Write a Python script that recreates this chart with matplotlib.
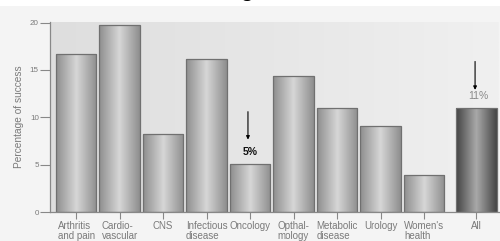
import numpy as np
import matplotlib.pyplot as plt
from matplotlib.colors import LinearSegmentedColormap

categories = ["Arthritis\nand pain", "Cardio-\nvascular", "CNS", "Infectious\ndisease",
              "Oncology", "Opthal-\nmology", "Metabolic\ndisease", "Urology",
              "Women's\nhealth", "All"]
success = [16.7, 19.8, 8.2, 16.2, 5.1, 14.4, 11.0, 9.1, 3.9, 11.0]
positions = [0, 1, 2, 3, 4, 5, 6, 7, 8, 9.2]
yticks = [0, 5, 10, 15, 20]

plt.rcParams['font.family'] = ['Liberation Sans', 'DejaVu Sans']
txt_gray = '#7a7a7a'

fig = plt.figure(figsize=(5, 2.41), dpi=100)
fig.patch.set_facecolor('white')
# light panel behind the chart
fig.patches.append(plt.Rectangle((0, 0), 1, 0.975, transform=fig.transFigure,
                                 facecolor='#f4f4f4', edgecolor='none', zorder=-5))
# cut-off title at the very top
fig.text(0.493, 1.035, 'g', fontsize=15, fontweight='bold', ha='center', va='center')

ax = fig.add_axes([0.100, 0.120, 0.898, 0.790])
ax.set_xlim(-0.6, 9.72)
ax.set_ylim(0, 20.1)

# background gradient of the plot area
bg = LinearSegmentedColormap.from_list('bg', ['#dedede', '#f0f0f0'])
ax.imshow(np.linspace(0, 1, 256).reshape(1, -1), cmap=bg, aspect='auto',
          extent=[-0.6, 9.72, 0, 20.1], zorder=0)

cyl = np.concatenate([np.linspace(0, 1, 64), np.linspace(1, 0, 64)]).reshape(1, -1)
gray_cm = LinearSegmentedColormap.from_list('g', ['#8e8e8e', '#d6d6d6'])
dark_cm = LinearSegmentedColormap.from_list('d', ['#444444', '#a8a8a8'])

width = 0.93
bars = ax.bar(positions, success, width=width, facecolor='none',
              edgecolor='#707070', linewidth=0.9, zorder=3)
for b, cat in zip(bars, categories):
    x0 = b.get_x()
    cm = dark_cm if cat == "All" else gray_cm
    im = ax.imshow(cyl, cmap=cm, aspect='auto', zorder=2,
                   extent=[x0, x0 + b.get_width(), 0, b.get_height()])
    im.set_clip_path(b)

ax.set_yticks(yticks)
ax.set_xticks(positions)
ax.set_xticklabels(categories, fontsize=7, color=txt_gray, multialignment='left',
                   linespacing=1.0)
ax.tick_params(axis='y', labelsize=5.8, labelcolor=txt_gray, color='#888888',
               length=7, width=0.8, pad=1)
ax.tick_params(axis='x', color='#888888', length=5, width=0.8, pad=1.5)
ax.set_ylabel('Percentage of success', fontsize=7.3, color=txt_gray, labelpad=4)

for s in ['top', 'right']:
    ax.spines[s].set_visible(False)
for s in ['left', 'bottom']:
    ax.spines[s].set_color('#888888')
    ax.spines[s].set_linewidth(0.9)
    ax.spines[s].set_zorder(4)

# annotations
ax.annotate('', xy=(positions[4] - 0.05, success[4] + 2.55),
            xytext=(positions[4] - 0.05, success[4] + 5.5),
            arrowprops=dict(arrowstyle='-|>', color='black', lw=0.8,
                            mutation_scale=5, shrinkA=0, shrinkB=0))
ax.text(positions[4], success[4] + 0.75, '5%', fontsize=7.5, fontweight='bold',
        ha='center', va='bottom', color='#111111')
ax.annotate('', xy=(positions[9] - 0.03, success[9] + 1.9),
            xytext=(positions[9] - 0.03, success[9] + 4.9),
            arrowprops=dict(arrowstyle='-|>', color='black', lw=0.8,
                            mutation_scale=5, shrinkA=0, shrinkB=0))
ax.text(positions[9] + 0.05, success[9] + 0.75, '11%', fontsize=7.5,
        ha='center', va='bottom', color='#8a8a8a')

fig.savefig('out.png', dpi=100, facecolor=fig.get_facecolor())
